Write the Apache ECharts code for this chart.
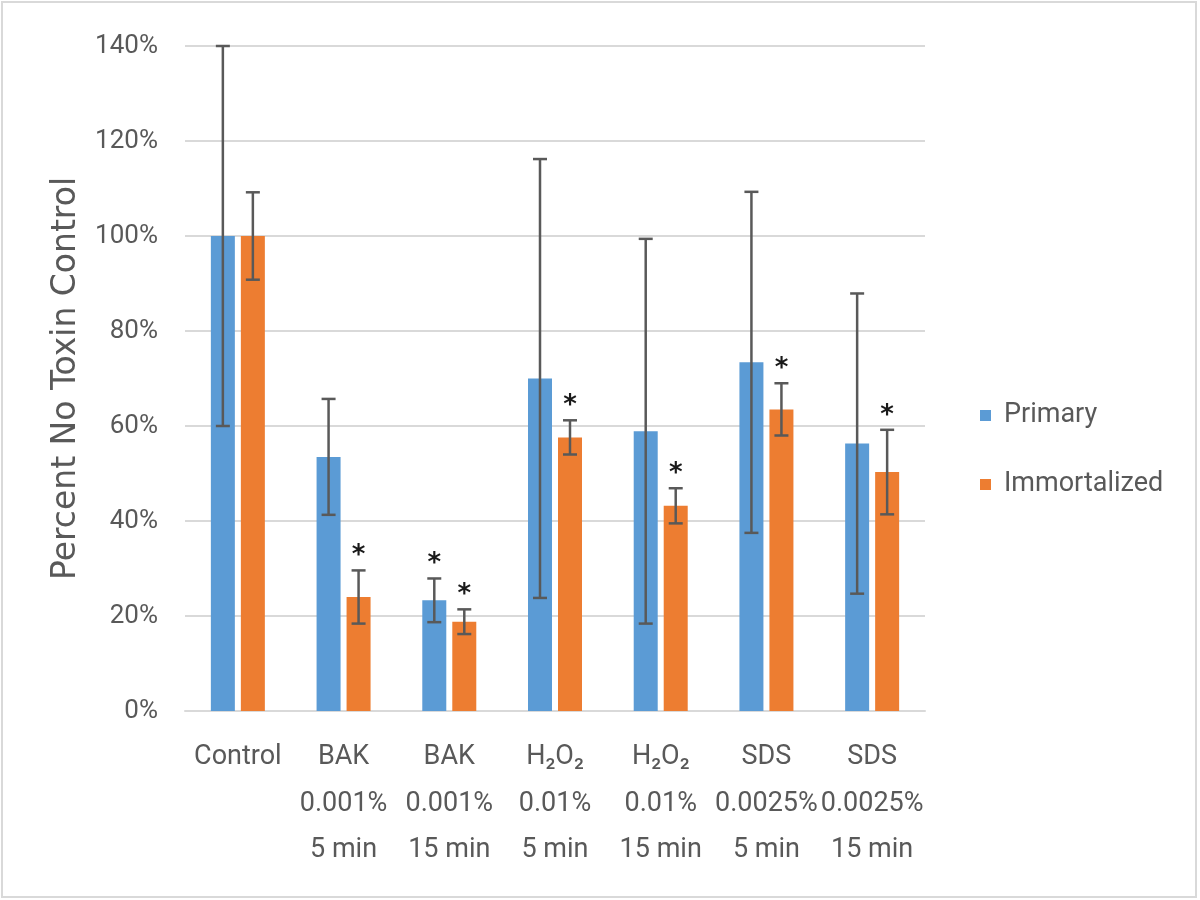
<!DOCTYPE html>
<html>
<head>
<meta charset="utf-8">
<script src="https://cdn.jsdelivr.net/npm/echarts@6/dist/echarts.min.js"></script>
<style>html,body{margin:0;padding:0;background:#fff}#c{width:1200px;height:900px}</style>
</head>
<body>
<div id="c"></div>
<script>
var categories = ['Control', 'BAK\n0.001%\n5 min', 'BAK\n0.001%\n15 min', 'H₂O₂\n0.01%\n5 min', 'H₂O₂\n0.01%\n15 min', 'SDS\n0.0025%\n5 min', 'SDS\n0.0025%\n15 min'];
var primary = [100, 53.5, 23.3, 70, 58.9, 73.4, 56.3];
var primaryErr = [40, 12.2, 4.6, 46.2, 40.5, 35.9, 31.6];
var primarySig = [false, false, true, false, false, false, false];
var immortalized = [100, 24, 18.8, 57.6, 43.2, 63.5, 50.3];
var immortalizedErr = [9.2, 5.6, 2.6, 3.6, 3.7, 5.5, 8.9];
var immortalizedSig = [false, true, true, true, true, true, true];
var yTicks = [0, 20, 40, 60, 80, 100, 120, 140];

var FONT = "'Roboto', 'Liberation Sans', sans-serif";
var chart = echarts.init(document.getElementById('c'));

function errData(vals, errs, sig) {
  return vals.map(function (v, i) { return [i, v - errs[i], v + errs[i], sig[i] ? 1 : 0]; });
}
function errSeries(name, vals, errs, sig, offset) {
  return {
    type: 'custom',
    name: name + ' err',
    z: 10,
    silent: true,
    data: errData(vals, errs, sig),
    encode: { x: 0, y: [1, 2] },
    renderItem: function (params, api) {
      var x = api.coord([api.value(0), 0])[0] + offset;
      var lo = api.coord([api.value(0), api.value(1)])[1];
      var hi = api.coord([api.value(0), api.value(2)])[1];
      var cap = 7;
      var st = { stroke: '#595959', lineWidth: 2.5 };
      var children = [
        { type: 'line', shape: { x1: x, y1: lo, x2: x, y2: hi }, style: st },
        { type: 'line', shape: { x1: x - cap, y1: lo, x2: x + cap, y2: lo }, style: st },
        { type: 'line', shape: { x1: x - cap, y1: hi, x2: x + cap, y2: hi }, style: st }
      ];
      if (api.value(3) === 1) {
        children.push({ type: 'text', style: { text: '*', x: x, y: hi - 4, textAlign: 'center', textVerticalAlign: 'bottom', fontSize: 26, fontWeight: 'bold', fill: '#1a1a1a', fontFamily: 'DejaVu Sans', lineHeight: 20 } });
      }
      return { type: 'group', children: children };
    }
  };
}

chart.setOption({
  animation: false,
  backgroundColor: '#fff',
  graphic: [{ type: 'rect', shape: { x: 2, y: 2, width: 1194, height: 895 }, style: { fill: 'none', stroke: '#d9d9d9', lineWidth: 2 }, silent: true }],
  grid: { left: 185, right: 275, top: 46, bottom: 189 },
  legend: {
    orient: 'vertical', left: 975, top: 397, itemGap: 42, itemWidth: 11, itemHeight: 11,
    icon: 'rect',
    textStyle: { fontSize: 27, color: '#595959', fontFamily: FONT, padding: [0, 0, 0, 8] },
    data: ['Primary', 'Immortalized']
  },
  xAxis: {
    type: 'category', data: categories,
    axisLine: { show: true, lineStyle: { color: '#d9d9d9', width: 2 } },
    axisTick: { show: false },
    axisLabel: { interval: 0, fontSize: 27, lineHeight: 46.5, color: '#595959', margin: 23, fontFamily: FONT }
  },
  yAxis: {
    type: 'value', min: 0, max: 140, interval: 20,
    name: 'Percent No Toxin Control', nameLocation: 'middle', nameGap: 102, nameRotate: 90,
    nameTextStyle: { fontSize: 33, color: '#595959', fontFamily: "'DejaVu Sans', sans-serif" },
    axisLine: { show: false }, axisTick: { show: false },
    splitLine: { lineStyle: { color: '#d9d9d9', width: 2 } },
    axisLabel: { fontSize: 26, color: '#595959', margin: 27, fontFamily: FONT, formatter: function (v) { return yTicks.indexOf(v) >= 0 ? v + '%' : ''; } }
  },
  series: [
    { type: 'bar', name: 'Primary', data: primary, barWidth: 24, barGap: '25%', itemStyle: { color: '#5B9BD5' } },
    { type: 'bar', name: 'Immortalized', data: immortalized, barWidth: 24, barGap: '25%', itemStyle: { color: '#ED7D31' } },
    errSeries('Primary', primary, primaryErr, primarySig, -15),
    errSeries('Immortalized', immortalized, immortalizedErr, immortalizedSig, 15)
  ]
});
</script>
</body>
</html>
